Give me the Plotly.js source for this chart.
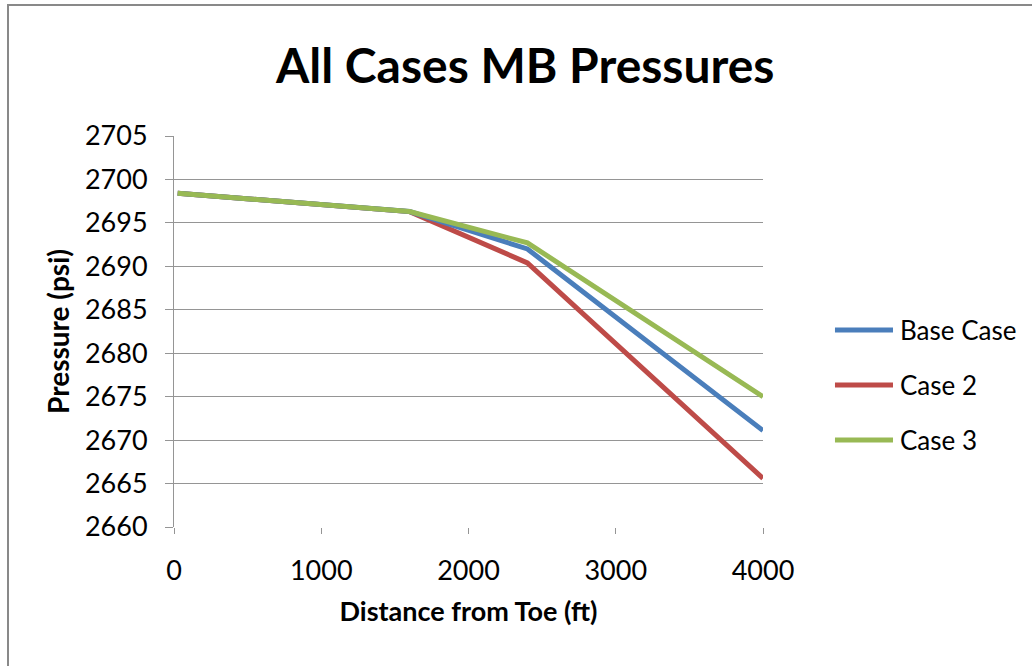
<!DOCTYPE html>
<html>
<head>
<meta charset="utf-8">
<script src="https://cdn.plot.ly/plotly-3.0.1.min.js"></script>
<style>
html,body{margin:0;padding:0;background:#fff;}
#frame{position:absolute;left:7px;top:4px;width:1040px;height:700px;border-top:2px solid #898989;border-left:2px solid #898989;box-sizing:border-box;}
#chart{position:absolute;left:0;top:0;width:1032px;height:666px;}
</style>
</head>
<body>
<div id="frame"></div>
<div id="chart"></div>
<script>
const distance = [25, 1600, 2400, 4000];
const baseCase = [2698.4, 2696.3, 2692.0, 2671.1];
const case2 = [2698.4, 2696.3, 2690.4, 2665.6];
const case3 = [2698.4, 2696.3, 2692.7, 2675.0];
const seriesNames = ["Base Case", "Case 2", "Case 3"];
const colors = ["#4A7EBB", "#BE4B48", "#98B954"];

const F = "Lato, 'Open Sans', sans-serif";
const GRID = "#959595";
const vals = [baseCase, case2, case3];
const traces = vals.map((v, i) => ({
  x: distance, y: v, type: "scatter", mode: "lines", name: seriesNames[i],
  showlegend: false,
  line: {color: colors[i], width: 5}
}));
// draw order: red under blue under green
const ordered = [traces[1], traces[0], traces[2]];

// custom legend (longer line samples, as in the reference)
const legY = [0.5038, 0.3632, 0.2225];
const shapes = seriesNames.map((n, i) => ({
  type: "line", xref: "paper", yref: "paper",
  x0: 1.1222, x1: 1.2207, y0: legY[i], y1: legY[i],
  line: {color: colors[i], width: 5}
}));
const annotations = seriesNames.map((n, i) => ({
  text: n, xref: "paper", yref: "paper", x: 1.2292, y: legY[i],
  xanchor: "left", yanchor: "middle", showarrow: false,
  font: {family: F, size: 26, color: "#000"}
}));

const layout = {
  width: 1032, height: 666,
  paper_bgcolor: "rgba(0,0,0,0)", plot_bgcolor: "rgba(0,0,0,0)",
  margin: {l: 174, r: 269, t: 136, b: 139},
  title: {text: "<b>All Cases MB Pressures</b>", font: {family: F, size: 48, color: "#000"}, x: 0.509, xanchor: "center", y: 0.9, yanchor: "middle"},
  showlegend: false,
  shapes: shapes,
  annotations: annotations,
  xaxis: {
    range: [0, 4000], tickvals: [0, 1000, 2000, 3000, 4000], ticktext: ["0", "1000", "2000", "3000", "4000"],
    showgrid: false, zeroline: false, showline: false,
    ticks: "outside", ticklen: 6, tickcolor: GRID, tickwidth: 1,
    tickfont: {family: F, size: 27, color: "#000"},
    ticklabelstandoff: 14,
    title: {text: "<b>Distance from Toe (ft)</b>", font: {family: F, size: 27, color: "#000"}, standoff: 16}
  },
  yaxis: {
    range: [2660, 2705], dtick: 5, tick0: 2660,
    showgrid: true, gridcolor: GRID, gridwidth: 1,
    zeroline: false, showline: true, linecolor: GRID, linewidth: 1,
    ticks: "outside", ticklen: 8, tickcolor: GRID, tickwidth: 1,
    tickfont: {family: F, size: 27, color: "#000"},
    ticklabelstandoff: 12,
    title: {text: "<b>Pressure (psi)</b>", font: {family: F, size: 28, color: "#000"}, standoff: 7}
  }
};
Plotly.newPlot("chart", ordered, layout, {staticPlot: true});
</script>
</body>
</html>
